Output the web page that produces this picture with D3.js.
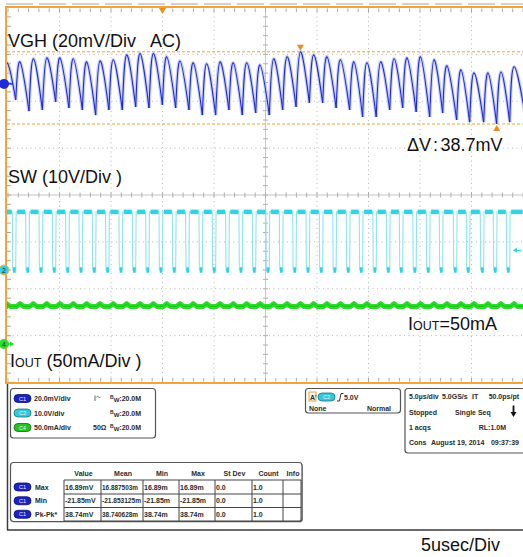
<!DOCTYPE html>
<html><head><meta charset="utf-8">
<script src="https://cdn.jsdelivr.net/npm/d3@7"></script>
<style>html,body{margin:0;padding:0;background:#fff;} svg{display:block;} text{white-space:pre;}</style>
</head><body>
<svg id="c" width="523" height="557"></svg>
<script>
// ---------------- data ----------------
// time of each VGH ripple peak (us, 5 us/div, 10 divisions)
const peakTimesUs = [-0.13,1.17,2.46,3.76,5.05,6.34,7.64,8.93,10.22,11.52,12.82,14.11,15.41,16.70,17.99,19.29,20.58,21.87,23.17,24.47,25.79,27.09,28.39,29.68,30.97,32.28,33.59,34.85,36.17,37.48,38.74,40.05,41.36,42.62,43.98,45.24,46.60,47.86,49.13];
// VGH (AC) ripple peak level of each cycle, mV
const vghPeakMv = [9.0,9.4,10.7,11.1,11.1,10.7,9.4,9.8,10.3,12.4,13.0,13.0,11.6,9.8,9.0,8.6,9.4,9.0,9.0,8.1,10.7,11.6,13.7,12.4,11.6,10.3,9.4,9.0,9.4,10.7,11.1,11.6,10.3,7.7,6.0,4.7,4.7,5.1,7.3];
// VGH trough before each peak (plus the final one), mV
const vghTroughMv = [-10,-6.8,-11.6,-11.1,-7.7,-10.3,-11.1,-13.3,-11.1,-11.1,-9.8,-10.3,-9.0,-10.3,-11.1,-13.3,-13.3,-11.1,-13.3,-12.4,-13.3,-11.1,-9.8,-8.1,-8.1,-10.3,-11.1,-14.1,-14.1,-11.1,-10.3,-12.0,-14.1,-12.4,-15.4,-16.3,-16.3,-17.1,-16.3,-15.4];
const vghRiseUs = 0.42;          // trough -> peak delay
const swLevelsV = [0, 12.4];     // SW low / high, V
const swFallBeforePeakUs = 0.75; // SW falls this long before a VGH peak
const swRiseBeforePeakUs = 0.38; // SW rises this long before a VGH peak
const ioutLevelsMa = [40.2, 43.1]; // IOUT baseline / ripple bump, mA
const ioutBumpHalfUs = 0.32;
const cursorMv = [13.7, -17.1];
const cursorMarkTimesUs = [28.39, 47.45];

const labelTexts = {vgh:"VGH (20mV/Div   AC)", sw:"SW (10V/Div )", tdiv:"5usec/Div"};
const dvParts = ["ΔV", ":", "38.7mV"];

const chNames = ["C1","C2","C4"];
const chScaleTexts = ["20.0mV/div","10.0V/div","50.0mA/div"];
const chExtra = ["", "", "50Ω"];
const chBw = ["20.0M","20.0M","20.0M"];

const acqRows = [
  [["5.0µs/div",409,"start"],["5.0GS/s",442,"start"],["IT",472,"start"],["50.0ps/pt",519,"end"]],
  [["Stopped",409,"start"],["Single Seq",455,"start"]],
  [["1 acqs",409,"start"],["RL:1.0M",506,"end"]],
  [["Cons",409,"start"],["August 19, 2014",431,"start"],["09:37:39",519,"end"]]
];
const measHeaders = ["Value","Mean","Min","Max","St Dev","Count","Info"];
const measRowNames = ["Max","Min","Pk-Pk*"];
const measValues = [
  ["16.89mV","16.887503m","16.89m","16.89m","0.0","1.0",""],
  ["-21.85mV","-21.853125m","-21.85m","-21.85m","0.0","1.0",""],
  ["38.74mV","38.740628m","38.74m","38.74m","0.0","1.0",""]
];

// ---------------- layout ----------------
const svg = d3.select("#c");
const X0 = 8, X1 = 523, Y0 = 7.5, Y1 = 382.5;
const x = d3.scaleLinear().domain([0, 50]).range([X0, X1]);
const yDiv = d3.scaleLinear().domain([-4, 4]).range([Y1, Y0]);
const ch1Off = 2.37, ch2Off = -1.6, ch4Off = -3.18;
const y1 = d3.scaleLinear().domain([-20, 20]).range([yDiv(ch1Off - 1), yDiv(ch1Off + 1)]);
const y2 = d3.scaleLinear().domain([-10, 10]).range([yDiv(ch2Off - 1), yDiv(ch2Off + 1)]);
const y4 = d3.scaleLinear().domain([-50, 50]).range([yDiv(ch4Off - 1), yDiv(ch4Off + 1)]);

const ORANGE = "#f2a33a", BLUE = "#1f2ad6", CYAN = "#2fd3e3", GREEN = "#2ade2a";
const FONT = "'Liberation Sans', Arial, sans-serif";
const NARROW = "'Liberation Sans Narrow','Arial Narrow','Liberation Sans',Arial,sans-serif";

svg.append("defs").append("clipPath").attr("id", "plot")
  .append("rect").attr("x", 7).attr("y", 8).attr("width", 516).attr("height", 374);

// top gray dashed strip
svg.append("line").attr("x1", 6).attr("x2", 523).attr("y1", 4).attr("y2", 4)
  .attr("stroke", "#c4c4c4").attr("stroke-width", 1.4).attr("stroke-dasharray", "27,6");

// grid
const g = svg.append("g");
g.selectAll(".vg").data(d3.range(5, 50, 5).filter(d => d !== 25)).join("line")
  .attr("x1", d => x(d)).attr("x2", d => x(d)).attr("y1", Y0).attr("y2", Y1)
  .attr("stroke", "#b9b9b9").attr("stroke-width", 1).attr("stroke-dasharray", "1,3.5");
g.selectAll(".hg").data([-3, -2, -1, 1, 2, 3]).join("line")
  .attr("x1", X0).attr("x2", X1).attr("y1", d => yDiv(d)).attr("y2", d => yDiv(d))
  .attr("stroke", "#b9b9b9").attr("stroke-width", 1).attr("stroke-dasharray", "1,3.5");
// center cross
g.append("line").attr("x1", x(25)).attr("x2", x(25)).attr("y1", Y0).attr("y2", Y1).attr("stroke", "#c6c6c6");
g.append("line").attr("x1", X0).attr("x2", X1).attr("y1", yDiv(0)).attr("y2", yDiv(0)).attr("stroke", "#c6c6c6");
const minorT = d3.range(0, 50.01, 1);
const minorD = d3.range(-4, 4.01, 0.2);
g.selectAll(".ct").data(minorT).join("line")
  .attr("x1", d => x(d)).attr("x2", d => x(d)).attr("y1", yDiv(0) - 2.5).attr("y2", yDiv(0) + 2.5).attr("stroke", "#b0b0b0");
g.selectAll(".cd").data(minorD).join("line")
  .attr("x1", x(25) - 2.5).attr("x2", x(25) + 2.5).attr("y1", d => yDiv(d)).attr("y2", d => yDiv(d)).attr("stroke", "#b0b0b0");
// border ticks
g.selectAll(".tt").data(minorT).join("line")
  .attr("x1", d => x(d)).attr("x2", d => x(d)).attr("y1", Y0 + 1).attr("y2", Y0 + 4.5).attr("stroke", "#a8a8a8");
g.selectAll(".bt").data(minorT).join("line")
  .attr("x1", d => x(d)).attr("x2", d => x(d)).attr("y1", Y1 - 4.5).attr("y2", Y1 - 1).attr("stroke", "#a8a8a8");
g.selectAll(".lt").data(minorD).join("line")
  .attr("x1", 7).attr("x2", 11).attr("y1", d => yDiv(d)).attr("y2", d => yDiv(d)).attr("stroke", "#a8a8a8");

// cursors
svg.selectAll(".cur").data(cursorMv).join("line")
  .attr("x1", 7).attr("x2", X1).attr("y1", d => y1(d)).attr("y2", d => y1(d))
  .attr("stroke", ORANGE).attr("stroke-width", 1).attr("stroke-dasharray", "3,2");

// ---------------- traces ----------------
const plot = svg.append("g").attr("clip-path", "url(#plot)");

// SW
const [swLo, swHi] = swLevelsV;
const swPts = [[0, swHi]];
const highSegs = [], lowSegs = [];
let prevRise = 0;
peakTimesUs.forEach(p => {
  const f = p - swFallBeforePeakUs, r = p - swRiseBeforePeakUs;
  swPts.push([f, swHi], [f + 0.04, swLo], [r - 0.04, swLo], [r, swHi]);
  highSegs.push([prevRise, f]);
  lowSegs.push([f + 0.04, r - 0.04]);
  prevRise = r;
});
highSegs.push([prevRise, 50]);
swPts.push([50, swHi]);
plot.append("path").datum(swPts)
  .attr("d", d3.line().x(d => x(d[0])).y(d => y2(d[1])))
  .attr("fill", "none").attr("stroke", "#8fe6ef").attr("stroke-width", 1.1);
plot.selectAll(".hs").data(highSegs).join("line")
  .attr("x1", d => x(d[0]) + 1).attr("x2", d => x(d[1]) - 0.5)
  .attr("y1", y2(swHi)).attr("y2", y2(swHi))
  .attr("stroke", CYAN).attr("stroke-width", 4.5);
plot.selectAll(".ls").data(lowSegs).join("line")
  .attr("x1", d => x(d[0]) + 0.3).attr("x2", d => x(d[1]))
  .attr("y1", y2(swLo)).attr("y2", y2(swLo))
  .attr("stroke", CYAN).attr("stroke-width", 5.5);

// IOUT
const ioPts = [[0, ioutLevelsMa[0]]];
peakTimesUs.forEach(p => {
  ioPts.push([p - ioutBumpHalfUs, ioutLevelsMa[0]], [p, ioutLevelsMa[1]], [p + ioutBumpHalfUs, ioutLevelsMa[0]]);
});
ioPts.push([50.5, ioutLevelsMa[0]]);
const ioLine = d3.line().x(d => x(d[0])).y(d => y4(d[1]));
plot.append("path").datum(ioPts).attr("d", ioLine)
  .attr("fill", "none").attr("stroke", GREEN).attr("stroke-width", 5).attr("stroke-linejoin", "round");
plot.append("path").datum(ioPts).attr("d", ioLine)
  .attr("fill", "none").attr("stroke", "#19bf19").attr("stroke-width", 1);

// VGH arches
const arches = peakTimesUs.map((p, i) => {
  const next = i + 1 < peakTimesUs.length ? peakTimesUs[i + 1] - vghRiseUs : 50.3;
  return [[p - vghRiseUs, vghTroughMv[i]], [p, vghPeakMv[i]], [next, vghTroughMv[i + 1]]];
});
const archLine = d3.line().x(d => x(d[0])).y(d => y1(d[1])).curve(d3.curveNatural);
plot.selectAll(".ah").data(arches).join("path").attr("d", archLine)
  .attr("fill", "none").attr("stroke", "#bcc4f5").attr("stroke-width", 3.5).attr("stroke-opacity", 0.8);
plot.selectAll(".am").data(arches).join("path").attr("d", archLine)
  .attr("fill", "none").attr("stroke", BLUE).attr("stroke-width", 1.1);

// frame
svg.append("line").attr("x1", 6).attr("x2", 523).attr("y1", 7).attr("y2", 7).attr("stroke", ORANGE).attr("stroke-width", 2);
svg.append("line").attr("x1", 6).attr("x2", 523).attr("y1", 383).attr("y2", 383).attr("stroke", ORANGE).attr("stroke-width", 2);
svg.append("line").attr("x1", 6).attr("x2", 6).attr("y1", 6).attr("y2", 384).attr("stroke", ORANGE).attr("stroke-width", 2);

// trigger position marker & cursor markers
const tri = (cx, tip, dir) => `M${cx - 3.5},${tip - 6 * dir}L${cx + 3.5},${tip - 6 * dir}L${cx},${tip}Z`;
svg.append("path").attr("d", tri(x(15.0), 14, 1)).attr("fill", "#f08a20");
svg.append("path").attr("d", tri(x(cursorMarkTimesUs[0]), y1(cursorMv[0]) - 1, 1)).attr("fill", "#f08a20");
svg.append("path").attr("d", tri(x(cursorMarkTimesUs[1]), y1(cursorMv[1]) + 1, -1)).attr("fill", "#f08a20");

// channel markers
svg.append("line").attr("x1", 4).attr("x2", 13).attr("y1", y1(0)).attr("y2", y1(0)).attr("stroke", BLUE).attr("stroke-width", 1.5);
svg.append("circle").attr("cx", 4).attr("cy", y1(0)).attr("r", 5).attr("fill", BLUE);
svg.append("circle").attr("cx", 4).attr("cy", y2(0)).attr("r", 5).attr("fill", CYAN).attr("stroke", "#f2b640").attr("stroke-width", 1);
svg.append("text").attr("x", 4).attr("y", y2(0) + 2.5).attr("text-anchor", "middle").attr("font-size", 7).attr("font-family", FONT).attr("fill", "#224").text("2");
svg.append("line").attr("x1", 4).attr("x2", 13).attr("y1", y4(0)).attr("y2", y4(0)).attr("stroke", GREEN).attr("stroke-width", 1.5);
svg.append("path").attr("d", `M10,${y4(0) - 2.5}L14,${y4(0)}L10,${y4(0) + 2.5}Z`).attr("fill", GREEN);
svg.append("circle").attr("cx", 4).attr("cy", y4(0)).attr("r", 5).attr("fill", GREEN);
svg.append("text").attr("x", 4).attr("y", y4(0) + 2.5).attr("text-anchor", "middle").attr("font-size", 7).attr("font-family", FONT).attr("fill", "#143").text("4");
// trigger level arrow (C2, 5.0V)
svg.append("line").attr("x1", 514).attr("x2", 521).attr("y1", y2(4.2)).attr("y2", y2(4.2)).attr("stroke", CYAN).attr("stroke-width", 1.2);
svg.append("path").attr("d", `M513,${y2(4.2)}L517,${y2(4.2) - 2.5}L517,${y2(4.2) + 2.5}Z`).attr("fill", CYAN);

// ---------------- big labels ----------------
const big = (tx, ty) => svg.append("text").attr("x", tx).attr("y", ty).attr("font-family", FONT).attr("font-size", 18).attr("fill", "#111");
big(8, 47).text(labelTexts.vgh);
big(8, 183).text(labelTexts.sw);
const io1 = big(10, 367);
io1.append("tspan").text("I");
io1.append("tspan").attr("font-size", 12.5).text("OUT");
io1.append("tspan").text(" (50mA/Div )");
const dv = big(407, 151);
dv.append("tspan").text(dvParts[0]);
dv.append("tspan").attr("dx", 2.5).text(dvParts[1]);
dv.append("tspan").attr("dx", 2.5).text(dvParts[2]);
const io2 = big(408, 330);
io2.append("tspan").text("I");
io2.append("tspan").attr("font-size", 12.5).text("OUT");
io2.append("tspan").text("=50mA");
big(421, 551).text(labelTexts.tdiv);

// ---------------- bottom status panel ----------------
const pan = svg.append("g");
pan.append("line").attr("x1", 7.5).attr("x2", 7.5).attr("y1", 384).attr("y2", 530).attr("stroke", "#3a3a3a").attr("stroke-width", 1.5);
pan.append("line").attr("x1", 7).attr("x2", 523).attr("y1", 530).attr("y2", 530).attr("stroke", "#3a3a3a").attr("stroke-width", 1.5);

const small = (sel, tx, ty, txt, opts = {}) => sel.append("text").attr("x", tx).attr("y", ty)
  .attr("font-family", NARROW).attr("font-size", opts.size || 7).attr("font-weight", "bold")
  .attr("fill", opts.fill || "#2a2a2a").attr("text-anchor", opts.anchor || "start")
  .attr("textLength", opts.len || null).attr("lengthAdjust", opts.len ? "spacingAndGlyphs" : null).text(txt);
const badgeCol = {C1: ["#1b22c8", "#0a0f70"], C2: ["#33c9d8", "#127a86"], C4: ["#25c425", "#0c6a0c"]};
const badge = (sel, bx, cy, name) => {
  const [f, s] = badgeCol[name];
  sel.append("rect").attr("x", bx).attr("y", cy - 4).attr("width", 17).attr("height", 8).attr("rx", 4)
    .attr("fill", f).attr("stroke", s).attr("stroke-width", 0.8);
  sel.append("text").attr("x", bx + 8.5).attr("y", cy + 2).attr("text-anchor", "middle")
    .attr("font-family", NARROW).attr("font-size", 5.5).attr("fill", "#e8f0ff").text(name);
};

// channel box
pan.append("rect").attr("x", 10.5).attr("y", 388.5).attr("width", 145).attr("height", 49.5).attr("rx", 3)
  .attr("fill", "#fff").attr("stroke", "#555").attr("stroke-width", 1.2);
const rowY = [398.5, 413, 427.5];
chNames.forEach((n, i) => {
  badge(pan, 14, rowY[i], n);
  small(pan, 34, rowY[i] + 2.5, chScaleTexts[i]);
  if (chExtra[i]) small(pan, 93, rowY[i] + 2.5, chExtra[i]);
  const bw = pan.append("text").attr("x", 110).attr("y", rowY[i] + 2.5).attr("font-family", NARROW)
    .attr("font-size", 7).attr("font-weight", "bold").attr("fill", "#2a2a2a");
  bw.append("tspan").attr("font-size", 5).attr("dy", -2).text("B");
  bw.append("tspan").attr("font-size", 6).attr("dy", 3).text("W");
  bw.append("tspan").attr("dy", -1).text(":" + chBw[i]);
});
// AC coupling glyph
pan.append("path").attr("d", "M95,395.5L95,401 M96.5,397 q1,-1.2 2,0 t2,0").attr("stroke", "#555").attr("fill", "none").attr("stroke-width", 0.9);

// trigger box
pan.append("rect").attr("x", 305.5).attr("y", 388.5).attr("width", 95).attr("height", 24.5).attr("rx", 3)
  .attr("fill", "#fff").attr("stroke", "#555").attr("stroke-width", 1.2);
pan.append("rect").attr("x", 309).attr("y", 392).attr("width", 7).attr("height", 9).attr("fill", "#f4f4f4").attr("stroke", ORANGE);
small(pan, 310, 399.5, "A'", {size: 7});
badge(pan, 318, 397, "C2");
pan.append("path").attr("d", "M337,401L339.5,401L341,393.5L343.5,393.5").attr("stroke", "#333").attr("fill", "none").attr("stroke-width", 1);
small(pan, 344, 399.5, "5.0V");
small(pan, 309, 411, "None");
small(pan, 391, 411, "Normal", {anchor: "end"});

// acquisition box
pan.append("rect").attr("x", 405).attr("y", 388.5).attr("width", 120).attr("height", 64.5).attr("rx", 3)
  .attr("fill", "#fff").attr("stroke", "#555").attr("stroke-width", 1.2);
const acqY = [399.3, 415.3, 430, 445];
acqRows.forEach((row, i) => row.forEach(([t, tx, an]) => small(pan, tx, acqY[i], t, {anchor: an})));
pan.append("path").attr("d", "M513.5,405.5L513.5,414").attr("stroke", "#111").attr("stroke-width", 1.8);
pan.append("path").attr("d", "M510.5,412L516.5,412L513.5,417Z").attr("fill", "#111");

// measurement table
pan.append("rect").attr("x", 11.5).attr("y", 463.5).attr("width", 291.5).attr("height", 59).attr("rx", 3)
  .attr("fill", "#5a5a5a").attr("opacity", 0.5);
pan.append("rect").attr("x", 10.5).attr("y", 462.5).attr("width", 291.5).attr("height", 59).attr("rx", 3)
  .attr("fill", "#fff").attr("stroke", "#555").attr("stroke-width", 1.2);
const colX = [64, 101, 143, 179, 215, 252, 283, 301];
const tRowY = [480, 494, 507.5, 521];
measHeaders.forEach((h, j) => small(pan, (colX[j] + colX[j + 1]) / 2 + 1, 475.5, h, {anchor: "middle"}));
pan.selectAll(".tr").data(tRowY).join("line").attr("x1", colX[0]).attr("x2", colX[7])
  .attr("y1", d => d).attr("y2", d => d).attr("stroke", "#444").attr("stroke-width", 1);
pan.selectAll(".tc").data(colX).join("line").attr("x1", d => d).attr("x2", d => d)
  .attr("y1", tRowY[0]).attr("y2", tRowY[3]).attr("stroke", "#444").attr("stroke-width", 1);
measRowNames.forEach((n, i) => {
  const cy = (tRowY[i] + tRowY[i + 1]) / 2;
  badge(pan, 14, cy, "C1");
  small(pan, 35, cy + 2.5, n);
  measValues[i].forEach((v, j) => {
    const w = colX[j + 1] - colX[j] - 3;
    small(pan, colX[j] + 1, cy + 2.5, v, {len: v.length > 8 ? Math.min(w, v.length * 3.6) : null});
  });
});
</script>
</body></html>
